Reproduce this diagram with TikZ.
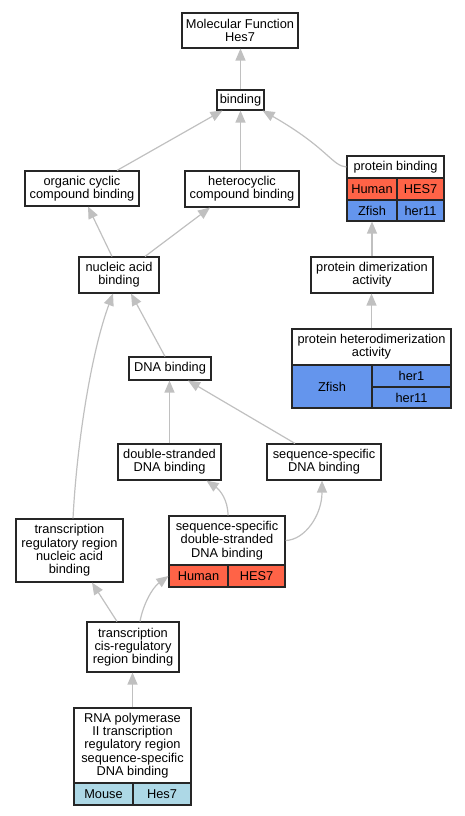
\documentclass[tikz,border=0pt]{standalone}
\usepackage{fontspec}
\setmainfont{Liberation Sans}
\usetikzlibrary{arrows.meta}
\definecolor{edgec}{RGB}{192,192,192}
\definecolor{human}{RGB}{255,99,71}
\definecolor{zfish}{RGB}{100,149,237}
\definecolor{mouse}{RGB}{173,216,230}
\begin{document}
\begin{tikzpicture}[x=1pt,y=-1pt,
  box/.style={draw=black!85, line width=1.1pt, fill=white, inner sep=0pt, align=center,
    font=\fontsize{12.8}{13.3}\selectfont},
  edge/.style={draw=edgec, line width=1.2pt, -{Triangle[length=12pt,width=10pt]}}]
\path[use as bounding box] (0,0) rectangle (465,816);
% nodes
\node[box, minimum width=116pt, minimum height=35pt] (mf) at (240,30.5) {Molecular Function\\Hes7};
\node[box, minimum width=47pt, minimum height=20pt] (bind) at (240.5,100) {binding};
\node[box, minimum width=114pt, minimum height=35pt] (org) at (82,188.5) {organic cyclic\\compound binding};
\node[box, minimum width=114pt, minimum height=36pt] (het) at (242,189) {heterocyclic\\compound binding};
\node[box, minimum width=80pt, minimum height=36pt] (nuc) at (119,275) {nucleic acid\\binding};
% protein binding
\node[box, minimum width=97pt, minimum height=22pt] (pbh) at (395.5,167) {protein binding};
\node[box, fill=human, minimum width=50pt, minimum height=22pt] (pbhu) at (372,189) {Human};
\node[box, fill=human, minimum width=47pt, minimum height=22pt] (pbhg) at (420.5,189) {HES7};
\node[box, fill=zfish, minimum width=50pt, minimum height=21pt] (pbz) at (372,210.5) {Zfish};
\node[box, fill=zfish, minimum width=47pt, minimum height=21pt] (pbzg) at (420.5,210.5) {her11};
\node[box, minimum width=122pt, minimum height=36pt] (dim) at (372,275) {protein dimerization\\activity};
% heterodimerization
\node[box, minimum width=159pt, minimum height=36pt] (hdh) at (371.5,347) {protein heterodimerization\\activity};
\node[box, fill=zfish, minimum width=80pt, minimum height=43pt] (hdz) at (332,386.5) {Zfish};
\node[box, fill=zfish, minimum width=79pt, minimum height=22pt] (hdg1) at (411.5,376) {her1};
\node[box, fill=zfish, minimum width=79pt, minimum height=21pt] (hdg2) at (411.5,397.5) {her11};
\node[box, minimum width=82pt, minimum height=23pt] (dna) at (170,368.5) {DNA binding};
\node[box, minimum width=103pt, minimum height=36pt] (ds) at (169.5,462) {double-stranded\\DNA binding};
\node[box, minimum width=114pt, minimum height=36pt] (ssd) at (324,462) {sequence-specific\\DNA binding};
% ss ds
\node[box, minimum width=116pt, minimum height=49pt] (ssdsh) at (227,540.5) {sequence-specific\\double-stranded\\DNA binding};
\node[box, fill=human, minimum width=59pt, minimum height=22pt] (sshu) at (198.5,576) {Human};
\node[box, fill=human, minimum width=57pt, minimum height=22pt] (sshg) at (256.5,576) {HES7};
\node[box, minimum width=107pt, minimum height=63pt] (trr) at (69.5,550.5) {transcription\\regulatory region\\nucleic acid\\binding};
\node[box, minimum width=92pt, minimum height=50pt] (cis) at (133,647) {transcription\\cis-regulatory\\region binding};
% RNA pol
\node[box, minimum width=117pt, minimum height=75pt] (rnah) at (132.5,745.5) {RNA polymerase\\II transcription\\regulatory region\\sequence-specific\\DNA binding};
\node[box, fill=mouse, minimum width=59pt, minimum height=22pt] (rnam) at (103.5,794) {Mouse};
\node[box, fill=mouse, minimum width=58pt, minimum height=22pt] (rnag) at (162,794) {Hes7};
% edges
\draw[edge] (bind.north) -- (bind.north |- mf.south);
\draw[edge] ([xshift=35pt]org.north) -- ([xshift=-18pt]bind.south);
\draw[edge] ([xshift=-1.5pt]het.north) -- (bind.south);
\draw[edge] (pbh.west) .. controls (332,166) and (328,148) .. ([xshift=-2pt]bind.south east);
\draw[edge] ([xshift=-7pt]nuc.north) -- ([xshift=6pt]org.south);
\draw[edge] ([xshift=26pt]nuc.north) -- ([xshift=-32pt]het.south);
\draw[edge] (dim.north) -- (dim.north |- pbz.south);
\draw[edge] (hdh.north) -- (hdh.north |- dim.south);
\draw[edge] ([xshift=-5pt]dna.north) -- ([xshift=12pt]nuc.south);
\draw[edge] (ds.north) -- (ds.north |- dna.south);
\draw[edge] ([xshift=-29pt]ssd.north) -- ([xshift=18pt]dna.south);
\draw[edge] ([xshift=1pt]ssdsh.north) .. controls (228,500) and (220,490) .. ([xshift=37pt]ds.south);
\draw[edge] (ssdsh.east) .. controls (305,540) and (322,515) .. ([xshift=-2pt]ssd.south);
\draw[edge] ([xshift=3.5pt]trr.north) .. controls (77,440) and (92,350) .. ([xshift=-6pt]nuc.south);
\draw[edge] ([xshift=-16pt]cis.north) -- ([xshift=22.5pt]trr.south);
\draw[edge] ([xshift=7pt]cis.north) .. controls (143,605) and (152,588) .. (sshu.west);
\draw[edge] (rnah.north) -- (rnah.north |- cis.south);
\end{tikzpicture}
\end{document}
